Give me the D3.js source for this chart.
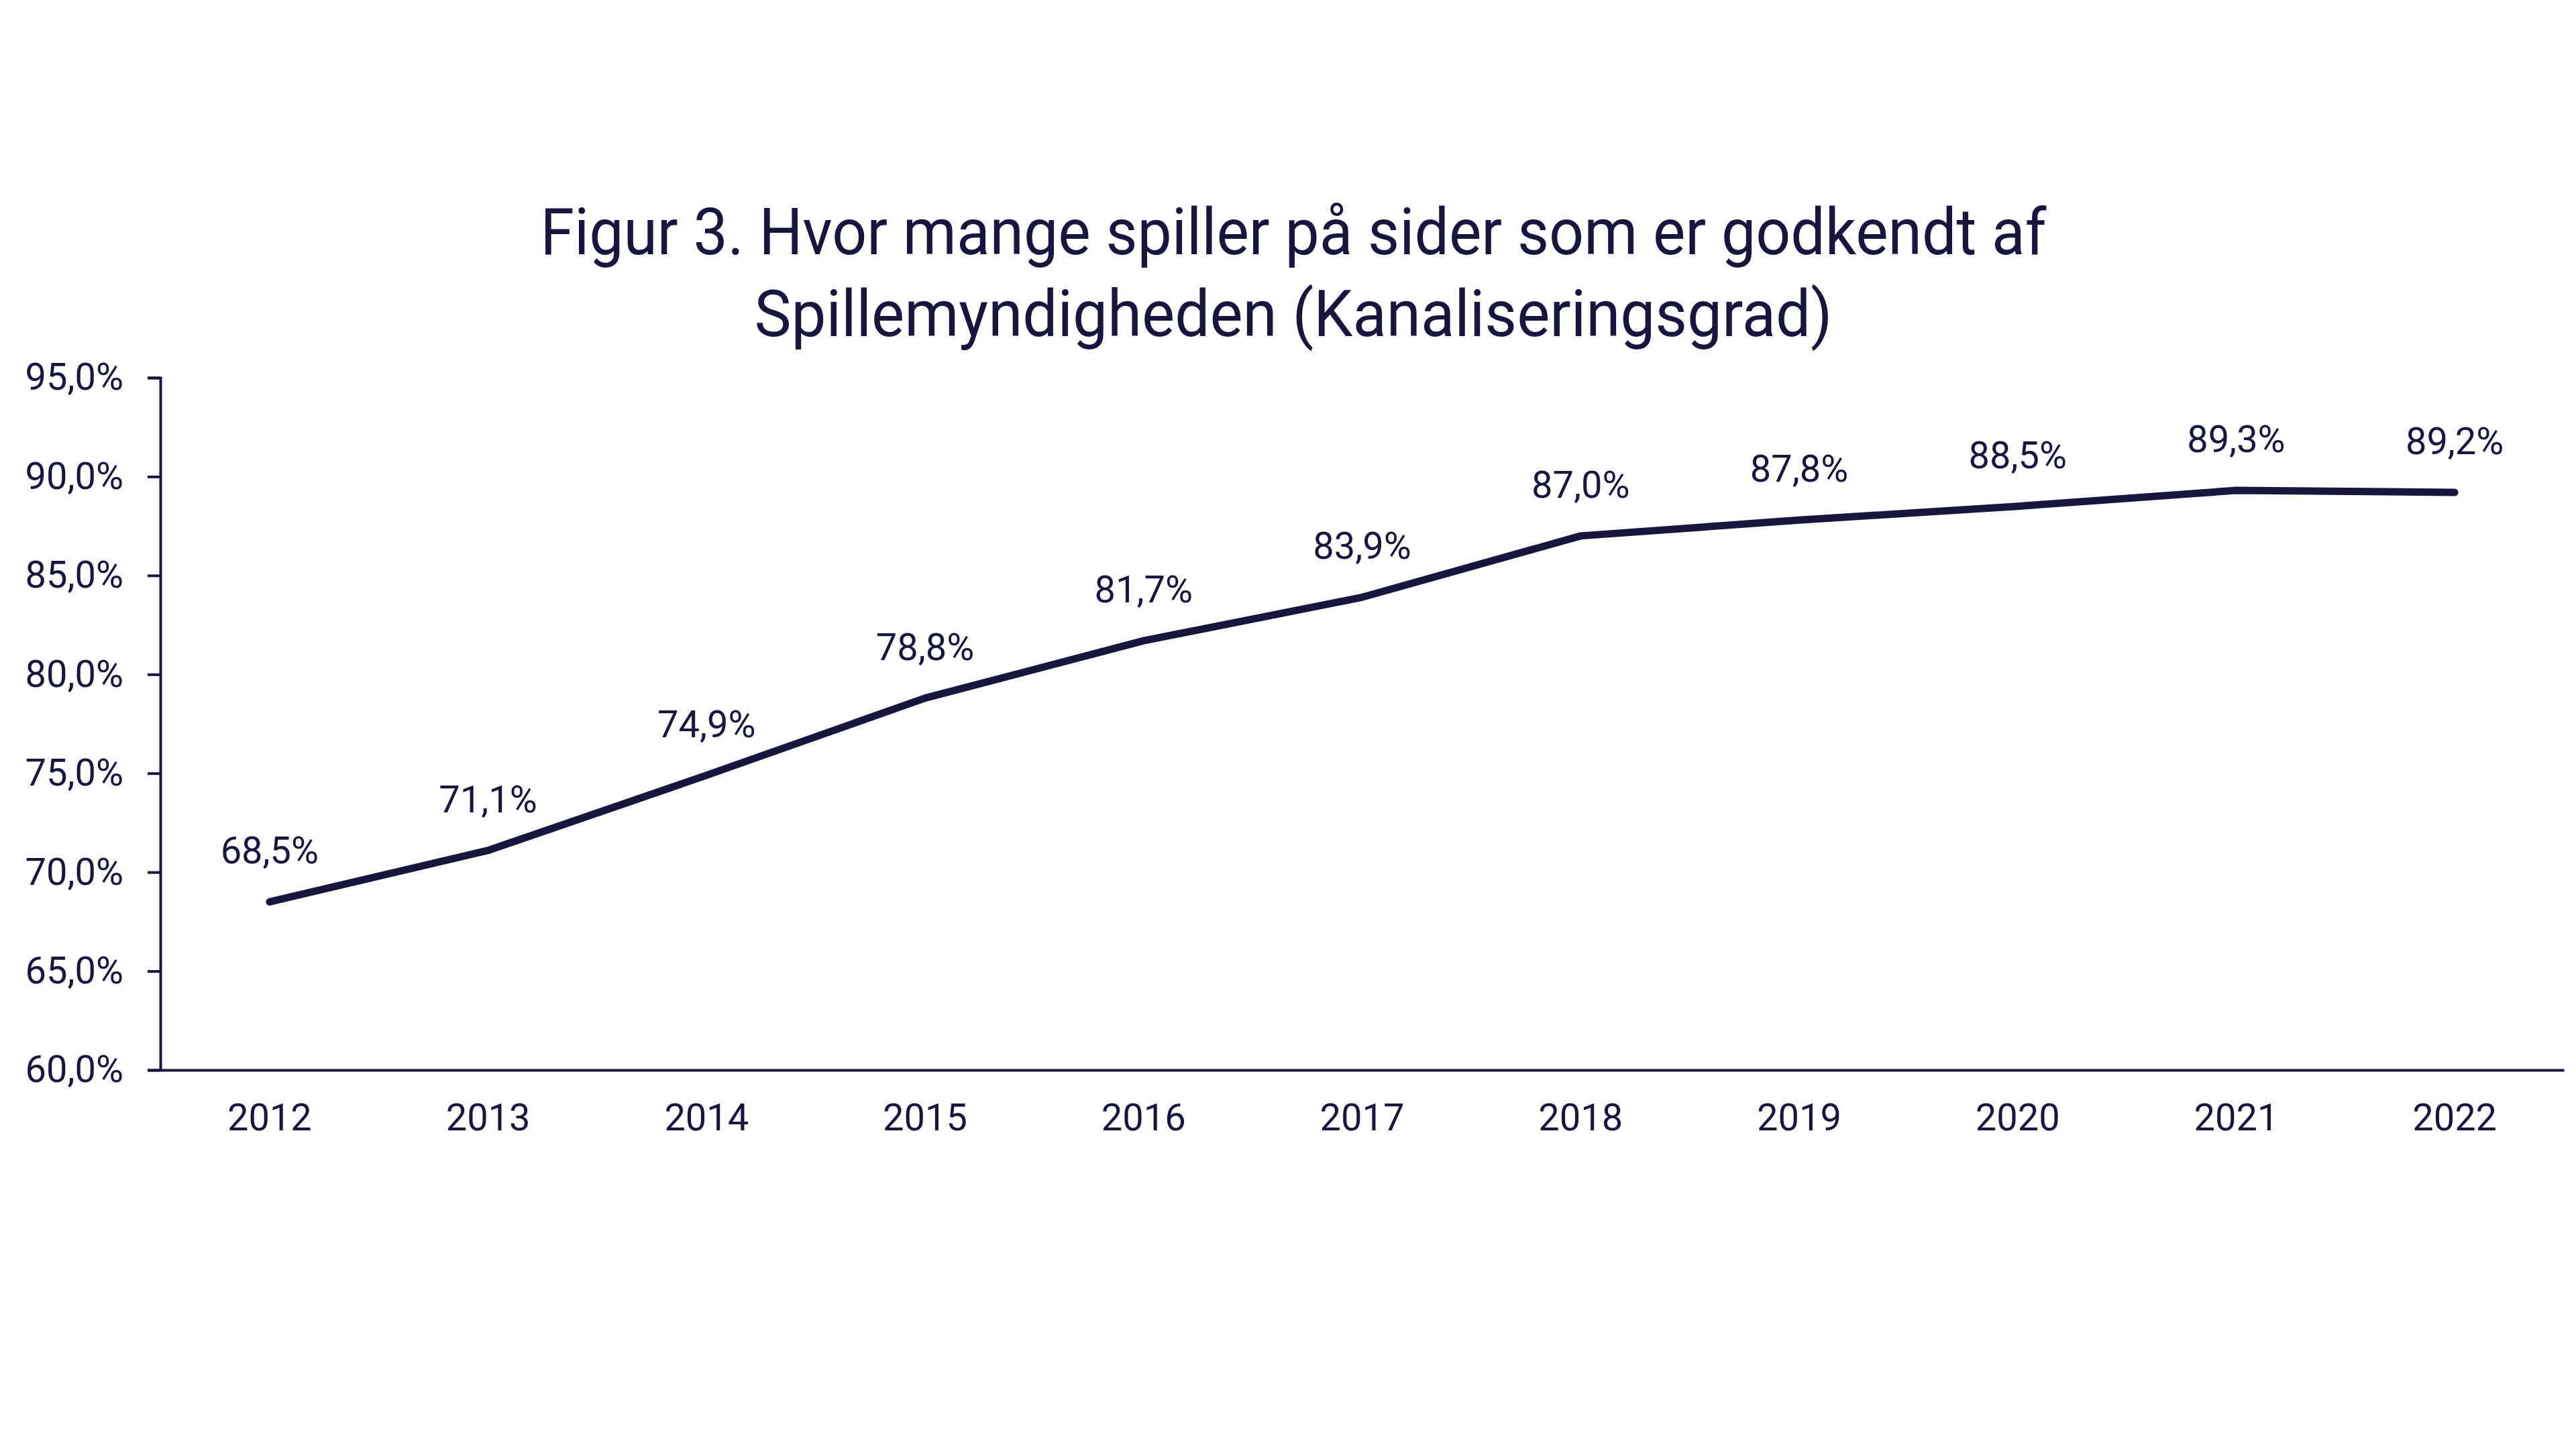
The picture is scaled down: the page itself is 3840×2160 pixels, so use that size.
<!DOCTYPE html>
<html>
<head>
<meta charset="utf-8">
<script src="https://cdn.jsdelivr.net/npm/d3@7"></script>
<style>
  html, body { margin: 0; padding: 0; background: #fff; }
  svg { display: block; }
  text { font-family: Roboto, "Noto Sans", sans-serif; fill: #16163f; }
</style>
</head>
<body>
<svg id="chart" width="3840" height="2160"></svg>
<script>
// data
const years = ["2012", "2013", "2014", "2015", "2016", "2017", "2018", "2019", "2020", "2021", "2022"];
const values = [68.5, 71.1, 74.9, 78.8, 81.7, 83.9, 87.0, 87.8, 88.5, 89.3, 89.2];
const yTicks = [60, 65, 70, 75, 80, 85, 90, 95];
const titleLines = [
    "Figur 3. Hvor mange spiller på sider som er godkendt af",
    "Spillemyndigheden (Kanaliseringsgrad)"
];
const titleWidths = [2245, 1607]; // bredde målt i referencen

const ink = "#16163f";
const svg = d3.select("#chart");

const x = d3.scaleBand().domain(years).range([239, 3822]);
const y = d3.scaleLinear().domain([60, 95]).range([1595, 563]);
const fmt = v => d3.format(".1f")(v).replace(".", ",") + "%";

// titel
svg.append("g")
    .selectAll("text")
    .data(titleLines)
    .enter().append("text")
    .attr("x", 1928)
    .attr("y", (d, i) => 379 + i * 122)
    .attr("text-anchor", "middle")
    .attr("textLength", (d, i) => titleWidths[i])
    .attr("lengthAdjust", "spacingAndGlyphs")
    .style("font-size", "97px")
    .text(d => d);

// y akse
const yAxis = svg.append("g")
    .attr("transform", "translate(239,0)")
    .call(d3.axisLeft(y).tickValues(yTicks).tickSize(19).tickPadding(36).tickFormat(fmt));
yAxis.select(".domain").attr("stroke", ink).attr("stroke-width", 4);
yAxis.selectAll(".tick line").attr("stroke", ink).attr("stroke-width", 4);
yAxis.selectAll(".tick text").style("font-size", "56px").attr("fill", ink);

// x akse
const xAxis = svg.append("g")
    .attr("transform", "translate(0,1595)")
    .call(d3.axisBottom(x).tickSize(0).tickPadding(50).tickSizeOuter(0));
xAxis.select(".domain").attr("stroke", ink).attr("stroke-width", 4);
xAxis.selectAll(".tick text").style("font-size", "56px").attr("fill", ink);

// linje
const line = d3.line()
    .x((d, i) => x(years[i]) + x.bandwidth() / 2)
    .y(d => y(d));

svg.append("path")
    .datum(values)
    .attr("d", line)
    .attr("fill", "none")
    .attr("stroke", ink)
    .attr("stroke-width", 11)
    .attr("stroke-linecap", "round")
    .attr("stroke-linejoin", "round");

// dataetiketter
svg.append("g")
    .selectAll("text")
    .data(values)
    .enter().append("text")
    .attr("x", (d, i) => x(years[i]) + x.bandwidth() / 2)
    .attr("y", d => y(d) - 57)
    .attr("text-anchor", "middle")
    .style("font-size", "56px")
    .text(d => fmt(d));
</script>
</body>
</html>
